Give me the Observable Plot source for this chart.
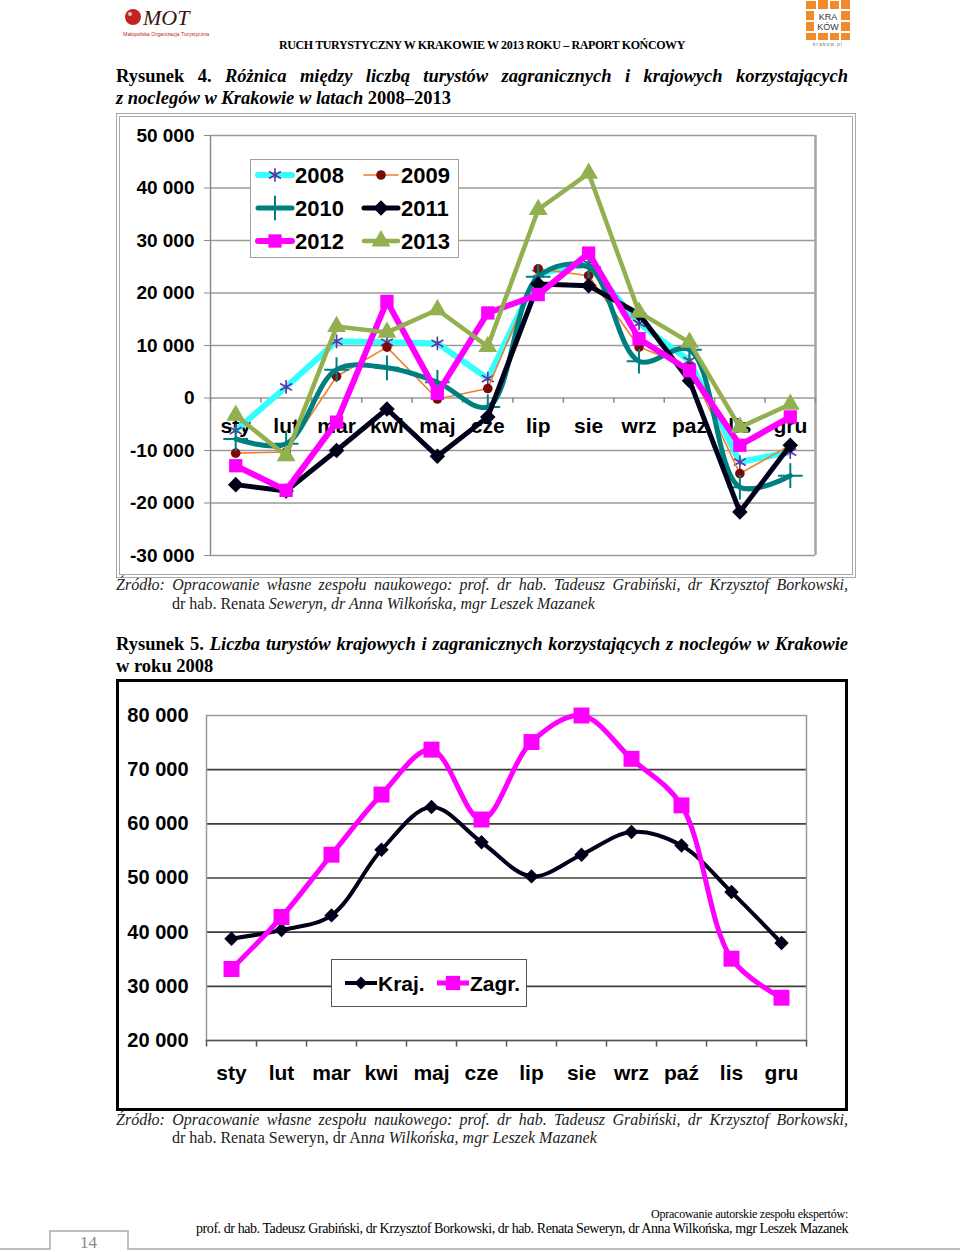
<!DOCTYPE html>
<html><head><meta charset="utf-8">
<script src="https://cdn.jsdelivr.net/npm/d3@7"></script>
<script src="https://cdn.jsdelivr.net/npm/@observablehq/plot@0.6"></script>
<style>
body{margin:0;background:#fff;}
#page{position:relative;width:960px;height:1252px;overflow:hidden;font-family:"Liberation Serif","Times New Roman",serif;color:#000;background:#fff;}
.abs{position:absolute;}
.t18{font-size:18.5px;line-height:22px;font-weight:bold;}
.src{font-size:16px;line-height:18px;color:#222;}
i{font-style:italic;}
</style></head><body><div id="page"></div>
<script>
// ---------- DATA ----------
const months1 = ["sty","lut","mar","kwi","maj","cze","lip","sie","wrz","paz","lis","gru"];
const months2 = ["sty","lut","mar","kwi","maj","cze","lip","sie","wrz","paź","lis","gru"];
const years = ["2008","2009","2010","2011","2012","2013"];
const diff2008 = [-6200, 2100, 10800, 10600, 10400, 3700, 23700, 25600, 14200, 7100, -12200, -10300];
const diff2009 = [-10500, -10300, 4100, 9700, -200, 1800, 24600, 23300, 9700, 5900, -14400, -9000];
const diff2010 = [-7800, -8700, 5400, 5750, 3000, -1700, 23100, 24900, 7000, 9200, -17000, -14800];
const diff2011 = [-16500, -17700, -10000, -2100, -11100, -3600, 21700, 21400, 16000, 3300, -21700, -9000];
const diff2012 = [-12900, -17600, -4600, 18400, 900, 16200, 19700, 27600, 11300, 5200, -9000, -3600];
const diff2013 = [-3300, -11000, 13600, 12500, 16800, 9800, 35900, 42800, 16300, 10600, -5600, -1200];
const yTicks1 = [-30000, -20000, -10000, 0, 10000, 20000, 30000, 40000, 50000];
const seriesNames2 = ["Kraj.", "Zagr."];
const kraj2008 = [38800, 40400, 43100, 55200, 63100, 56600, 50300, 54300, 58500, 56000, 47400, 38000];
const zagr2008 = [33200, 42800, 54300, 65400, 73700, 60800, 75100, 80000, 72000, 63400, 35100, 27900];
const yTicks2 = [20000, 30000, 40000, 50000, 60000, 70000, 80000];

// ---------- STYLES ----------
const style1 = {
  "2008": {color:"#33ffff", width:6, curve:"linear", symbol:"asterisk", fill:"none", stroke:"#6a2c9a", r:6.5, sw:1.6},
  "2009": {color:"#f07e30", width:1.6, curve:"linear", symbol:"circle", fill:"#7a0a0a", stroke:"none", r:4.8, sw:1},
  "2010": {color:"#007f7f", width:5, curve:"catmull-rom", symbol:"plus", fill:"none", stroke:"#007f7f", r:8, sw:2},
  "2011": {color:"#00001a", width:5, curve:"linear", symbol:"diamond2", fill:"#00001a", stroke:"none", r:7, sw:1},
  "2012": {color:"#ff00ff", width:6, curve:"linear", symbol:"square", fill:"#ff00ff", stroke:"none", r:7.5, sw:1},
  "2013": {color:"#92b050", width:4.5, curve:"linear", symbol:"triangle", fill:"#92b050", stroke:"none", r:7, sw:1}
};
const style2 = {
  "Kraj.": {color:"#00001a", width:4, symbol:"diamond2", fill:"#00001a", r:6.5},
  "Zagr.": {color:"#ff00ff", width:5, symbol:"square", fill:"#ff00ff", r:9}
};
const symMap = {asterisk:d3.symbolAsterisk, circle:d3.symbolCircle, plus:d3.symbolPlus, diamond2:d3.symbolDiamond2, square:d3.symbolSquare, triangle:d3.symbolTriangle};
const fmt = v => (v < 0 ? "-" : "") + d3.format(",")(Math.abs(v)).replace(/,/g, " ");
const FONT = "'Liberation Sans', Arial, sans-serif";

const page = document.getElementById("page");
function add(html, cls, left, top, extra) {
  const d = document.createElement("div");
  d.className = "abs " + (cls || "");
  d.style.left = left + "px"; d.style.top = top + "px";
  if (extra) Object.assign(d.style, extra);
  d.innerHTML = html;
  page.appendChild(d);
  return d;
}
function fit(el, target) {
  el.style.whiteSpace = "nowrap"; el.style.display = "inline-block";
  const w = el.getBoundingClientRect().width;
  const n = (el.textContent.match(/ /g) || []).length;
  if (w < target && n) el.style.wordSpacing = ((target - w) / n) + "px";
  else if (w > target) el.style.letterSpacing = ((target - w) / el.textContent.length) + "px";
}

// ---------- HEADER ----------
page.insertAdjacentHTML("beforeend", `
<svg class="abs" style="left:0;top:0" width="960" height="60">
  <circle cx="133" cy="17" r="8" fill="#c0261f"/>
  <circle cx="130" cy="14" r="2" fill="#fff" opacity="0.7"/>
  <text x="143" y="25" font-family="'Liberation Serif',serif" font-style="italic" font-size="22" fill="#3a1515">MOT</text>
  <text x="123" y="36" font-family="Arial,sans-serif" font-size="5.3" fill="#c0261f">Małopolska Organizacja Turystyczna</text>
  <g fill="#f08a2a">
    <rect x="806" y="1" width="10" height="8"/><rect x="818" y="0" width="10" height="9"/><rect x="830" y="1" width="9" height="8"/><rect x="841" y="0" width="9" height="9"/>
    <rect x="806" y="11" width="8" height="9"/><rect x="841" y="11" width="9" height="9"/>
    <rect x="806" y="22" width="8" height="9"/><rect x="841" y="22" width="9" height="9"/>
    <rect x="806" y="33" width="10" height="7"/><rect x="818" y="33" width="10" height="7"/><rect x="830" y="33" width="9" height="7"/><rect x="841" y="33" width="9" height="7"/>
  </g>
  <text x="828" y="20" text-anchor="middle" font-family="Arial,sans-serif" font-size="9" fill="#333">KRA</text>
  <text x="828" y="30" text-anchor="middle" font-family="Arial,sans-serif" font-size="9" fill="#333">KÓW</text>
  <text x="828" y="46" text-anchor="middle" font-family="Arial,sans-serif" font-size="5" letter-spacing="1" fill="#777">krakow.pl</text>
</svg>`);
const hdr = add("RUCH TURYSTYCZNY W KRAKOWIE W 2013 ROKU – RAPORT KOŃCOWY", "", 279, 38, {fontSize:"12px", lineHeight:"14px", fontWeight:"bold"});
fit(hdr, 406);

// ---------- FIGURE 4 TITLE ----------
const t4 = add("Rysunek 4. <i>Różnica między liczbą turystów zagranicznych i krajowych korzystających</i>", "t18", 116, 65);
fit(t4, 732);
add("<i>z noclegów w Krakowie w latach</i> 2008–2013", "t18", 116, 87, {whiteSpace:"nowrap"});

// ---------- CHART 1 ----------
add("", "", 116, 113, {width:"740px", height:"465px", boxSizing:"border-box", border:"4px double #a8a8a8"});
const bounds = d3.range(months1.length + 1).map(k => k - 0.5);
const values1 = [diff2008, diff2009, diff2010, diff2011, diff2012, diff2013];
const seriesMarks1 = [];
years.forEach((yr, k) => {
  const s = style1[yr];
  const data = values1[k].map((v, i) => ({i, v}));
  seriesMarks1.push(Plot.line(data, {x:"i", y:"v", stroke:s.color, strokeWidth:s.width, curve:s.curve}));
  seriesMarks1.push(Plot.dot(data, {x:"i", y:"v", symbol:s.symbol, r:s.r, fill:s.fill, stroke:s.stroke, strokeWidth:s.sw}));
});
const chart1 = Plot.plot({
  width:740, height:465, marginLeft:94, marginRight:41, marginTop:22, marginBottom:23,
  x:{domain:[bounds[0], bounds[bounds.length-1]], axis:null},
  y:{domain:[yTicks1[0], yTicks1[yTicks1.length-1]], axis:null},
  style:{fontFamily:FONT, background:"transparent", overflow:"visible"},
  marks:[
    Plot.ruleY(yTicks1, {stroke:"#9a9a9a", strokeWidth:1.5}),
    Plot.ruleX([bounds[0]], {stroke:"#8a8a8a", strokeWidth:1.5}),
    Plot.ruleX([bounds[bounds.length-1]], {stroke:"#a5a5a5", strokeWidth:2.5}),
    Plot.ruleX(bounds, {y1:0, y2:-1000, stroke:"#8a8a8a", strokeWidth:1.5}),
    Plot.axisY({ticks:yTicks1, tickFormat:fmt, tickSize:6, tickPadding:10, fontSize:19, fontWeight:"bold", stroke:"#8a8a8a", fill:"#000", label:null}),
    Plot.text(months1, {x:(d, i) => i, y:() => 0, dy:28, text:d => d, fontSize:21, fontWeight:"bold", fill:"#000"}),
    ...seriesMarks1
  ]
});
chart1.style.position = "absolute"; chart1.style.left = "116px"; chart1.style.top = "113px";
page.appendChild(chart1);

// legend 1
const leg1 = d3.create("svg").attr("width", 210).attr("height", 100)
  .style("position", "absolute").style("left", "250px").style("top", "159px");
leg1.append("rect").attr("x", 0.5).attr("y", 0.5).attr("width", 208).attr("height", 98).attr("fill", "#fff").attr("stroke", "#a0a0a0");
years.forEach((yr, k) => {
  const s = style1[yr];
  const col = k % 2, row = Math.floor(k / 2);
  const cx = col ? 131 : 25, cy = 16 + row * 33;
  leg1.append("line").attr("x1", cx - 17).attr("x2", cx + 17).attr("y1", cy).attr("y2", cy)
    .attr("stroke", s.color).attr("stroke-width", s.width).attr("stroke-linecap", "round");
  leg1.append("path").attr("transform", `translate(${cx},${cy})`)
    .attr("d", d3.symbol(symMap[s.symbol], Math.PI * s.r * s.r)())
    .attr("fill", s.fill).attr("stroke", s.stroke).attr("stroke-width", s.sw);
  leg1.append("text").attr("x", cx + 20).attr("y", cy).attr("dy", "0.36em")
    .attr("font-family", FONT).attr("font-size", 22).attr("font-weight", "bold").text(yr);
});
page.appendChild(leg1.node());

// source 1
const s1 = add("<i>Źródło: Opracowanie własne zespołu naukowego: prof. dr hab. Tadeusz Grabiński, dr Krzysztof Borkowski,</i>", "src", 116, 576);
fit(s1, 732);
add("dr hab. Renata <i>Seweryn, dr Anna Wilkońska, mgr Leszek Mazanek</i>", "src", 172, 595, {whiteSpace:"nowrap"});

// ---------- FIGURE 5 TITLE ----------
const t5 = add("Rysunek 5. <i>Liczba turystów krajowych i zagranicznych korzystających z noclegów w Krakowie</i>", "t18", 116, 633);
fit(t5, 732);
add("w roku 2008", "t18", 116, 655, {whiteSpace:"nowrap"});

// ---------- CHART 2 ----------
add("", "", 116, 679, {width:"732px", height:"432px", boxSizing:"border-box", border:"3px solid #000"});
const values2 = [kraj2008, zagr2008];
const seriesMarks2 = [];
seriesNames2.forEach((nm, k) => {
  const s = style2[nm];
  const data = values2[k].map((v, i) => ({i, v}));
  seriesMarks2.push(Plot.line(data, {x:"i", y:"v", stroke:s.color, strokeWidth:s.width, curve:"catmull-rom"}));
  seriesMarks2.push(Plot.dot(data, {x:"i", y:"v", symbol:s.symbol, r:s.r, fill:s.fill, stroke:"none"}));
});
const chart2 = Plot.plot({
  width:730, height:430, marginLeft:89, marginRight:41, marginTop:35, marginBottom:70,
  x:{domain:[bounds[0], bounds[bounds.length-1]], axis:null},
  y:{domain:[yTicks2[0], yTicks2[yTicks2.length-1]], axis:null},
  style:{fontFamily:FONT, background:"transparent", overflow:"visible"},
  marks:[
    Plot.ruleY(yTicks2.slice(1, -1), {stroke:"#3c3c3c", strokeWidth:1.6}),
    Plot.frame({stroke:"#9a9a9a", strokeWidth:1.5}),
    Plot.ruleY([yTicks2[0]], {stroke:"#555", strokeWidth:1.6}),
    Plot.ruleX(bounds, {y1:yTicks2[0], y2:yTicks2[0] - 1200, stroke:"#555", strokeWidth:1.5}),
    Plot.axisY({ticks:yTicks2, tickFormat:fmt, tickSize:0, tickPadding:18, fontSize:20, fontWeight:"bold", fill:"#000", label:null}),
    Plot.text(months2, {x:(d, i) => i, y:() => yTicks2[0], dy:33, text:d => d, fontSize:21, fontWeight:"bold", fill:"#000"}),
    ...seriesMarks2
  ]
});
chart2.style.position = "absolute"; chart2.style.left = "117px"; chart2.style.top = "680px";
page.appendChild(chart2);

// legend 2
const leg2 = d3.create("svg").attr("width", 197).attr("height", 49)
  .style("position", "absolute").style("left", "331px").style("top", "959px");
leg2.append("rect").attr("x", 0.5).attr("y", 0.5).attr("width", 195).attr("height", 47).attr("fill", "#fff").attr("stroke", "#555");
seriesNames2.forEach((nm, k) => {
  const s = style2[nm];
  const cx = k ? 122 : 30, cy = 24;
  leg2.append("line").attr("x1", cx - 16).attr("x2", cx + 16).attr("y1", cy).attr("y2", cy)
    .attr("stroke", s.color).attr("stroke-width", s.width);
  leg2.append("path").attr("transform", `translate(${cx},${cy})`)
    .attr("d", d3.symbol(symMap[s.symbol], Math.PI * s.r * s.r * 0.8)()).attr("fill", s.fill);
  leg2.append("text").attr("x", cx + 17).attr("y", cy).attr("dy", "0.36em")
    .attr("font-family", FONT).attr("font-size", 21).attr("font-weight", "bold").text(nm);
});
page.appendChild(leg2.node());

// source 2
const s2 = add("<i>Źródło: Opracowanie własne zespołu naukowego: prof. dr hab. Tadeusz Grabiński, dr Krzysztof Borkowski,</i>", "src", 116, 1111);
fit(s2, 732);
add("dr hab. Renata Seweryn, dr An<i>na Wilkońska, mgr Leszek Mazanek</i>", "src", 172, 1129, {whiteSpace:"nowrap"});

// ---------- FOOTER ----------
const f1 = add("Opracowanie autorskie zespołu ekspertów:", "", 651, 1207, {fontSize:"12px", lineHeight:"14px"});
fit(f1, 197);
const f2 = add("prof. dr hab. Tadeusz Grabiński, dr Krzysztof Borkowski, dr hab. Renata Seweryn, dr Anna Wilkońska, mgr Leszek Mazanek", "", 196, 1221, {fontSize:"14px", lineHeight:"16px"});
fit(f2, 652);
page.insertAdjacentHTML("beforeend", `<svg class="abs" style="left:0;top:1220px" width="960" height="32">
  <path d="M0,29H50V11H128V29H960" fill="none" stroke="#aaa" stroke-width="1.5"/></svg>`);
add("14", "", 80, 1234, {fontSize:"17px", lineHeight:"18px", color:"#888"});
</script></body></html>
